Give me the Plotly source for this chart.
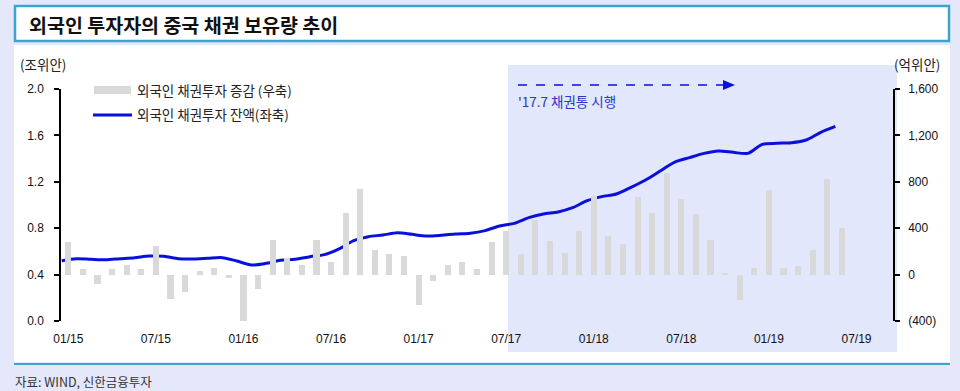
import plotly.graph_objects as go

# ---------------- data ----------------
month_labels = ["01/15", "07/15", "01/16", "07/16", "01/17", "07/17", "01/18", "07/18", "01/19", "07/19"]
n_months_axis = 57  # 2015-01 .. 2019-09 category slots

# monthly change of foreign bond holdings (억위안, right axis), 2015-01 .. 2019-06
flow = [280, 45, -80, 45, 80, 45, 250, -210, -150, 35, 55, -30,
        -405, -120, 300, 145, 80, 300, 110, 535, 740, 215, 175, 160,
        -265, -55, 80, 110, 45, 280, 380, 175, 475, 290, 185, 380,
        675, 330, 260, 665, 535, 880, 650, 520, 300, 15, -220, 60,
        730, 60, 75, 210, 820, 405]

# outstanding foreign bond holdings (조위안, left axis), beginning-of-month values
balance = [0.52, 0.537, 0.532, 0.528, 0.537, 0.546, 0.560, 0.558, 0.537, 0.534, 0.540, 0.546,
           0.517, 0.483, 0.497, 0.523, 0.532, 0.554, 0.572, 0.621, 0.692, 0.727, 0.741, 0.761,
           0.747, 0.733, 0.739, 0.750, 0.757, 0.779, 0.819, 0.842, 0.891, 0.922, 0.940, 0.977,
           1.037, 1.072, 1.095, 1.152, 1.216, 1.293, 1.370, 1.408, 1.445, 1.466, 1.454, 1.445,
           1.523, 1.532, 1.537, 1.560, 1.627, 1.678]

left_ticks = [0.0, 0.4, 0.8, 1.2, 1.6, 2.0]
right_ticks = [-400, 0, 400, 800, 1200, 1600]
right_ticktext = ["(400)", "0", "400", "800", "1,200", "1,600"]

title_text = "외국인 투자자의 중국 채권 보유량 추이"
legend_flow = "외국인 채권투자 증감 (우축)"
legend_bal = "외국인 채권투자 잔액(좌축)"
note_text = "'17.7 채권통 시행"
source_text = "자료: WIND, 신한금융투자"

# ---------------- layout helpers ----------------
W, H = 960, 391
L, R, T, B = 61, 893, 89, 321  # plot area in pixels


def px(x):
    return (x - L) / (R - L)


def py(y):
    return (B - y) / (B - T)


FONT = "Liberation Sans, Arial, Noto Sans CJK KR, sans-serif"
KFONT = "Noto Sans CJK KR, Liberation Sans, sans-serif"
BG = "#e5e8fb"
SHADE = "#e3e7fb"
TEAL = "#3aa6cc"
BLUE = "#0a10dc"
GRAY = "#d9d9d9"

x_bar = list(range(len(flow)))
x_line = [i - 0.45 for i in range(len(balance))]
xr = [-0.5, n_months_axis - 0.5]

fig = go.Figure()
fig.add_trace(go.Bar(x=x_bar, y=flow, yaxis="y2", marker=dict(color=GRAY, line=dict(width=0)),
                     width=0.42, name=legend_flow, showlegend=False))
fig.add_trace(go.Scatter(x=x_line, y=balance, mode="lines", line=dict(color=BLUE, width=3, shape="spline", smoothing=0.8),
                         name=legend_bal, showlegend=False))

shapes = [
    # white chart panel
    dict(type="rect", xref="paper", yref="paper", x0=px(14), x1=px(950), y0=py(362), y1=py(45),
         fillcolor="white", line=dict(width=0), layer="below"),
    # shaded period
    dict(type="rect", xref="paper", yref="paper", x0=px(508), x1=px(897), y0=py(352), y1=py(65),
         fillcolor=SHADE, line=dict(width=0), layer="below"),
    # title box
    dict(type="rect", xref="paper", yref="paper", x0=px(15), x1=px(949), y0=py(41), y1=py(6),
         fillcolor="white", line=dict(color=TEAL, width=2.5), layer="below"),
    # bottom rule
    dict(type="line", xref="paper", yref="paper", x0=px(14), x1=px(950), y0=py(364), y1=py(364),
         line=dict(color=TEAL, width=2)),
    # legend swatches
    dict(type="rect", xref="paper", yref="paper", x0=px(94), x1=px(131), y0=py(94), y1=py(86),
         fillcolor=GRAY, line=dict(width=0)),
    dict(type="line", xref="paper", yref="paper", x0=px(93), x1=px(132), y0=py(115), y1=py(115),
         line=dict(color=BLUE, width=3)),
    # dashed arrow
    dict(type="line", xref="paper", yref="paper", x0=px(518), x1=px(724), y0=py(85), y1=py(85),
         line=dict(color=BLUE, width=1.5, dash="dash")),
    dict(type="path", xref="paper", yref="paper",
         path=f"M {px(723)},{py(80)} L {px(735)},{py(85)} L {px(723)},{py(90)} Z",
         fillcolor=BLUE, line=dict(color=BLUE, width=0)),
]

annotations = [
    dict(text=f"<b>{title_text}</b>", x=px(27), y=py(24), xref="paper", yref="paper", xanchor="left",
         yanchor="middle", showarrow=False, font=dict(family=KFONT, size=19.5, color="#111111")),
    dict(text="(조위안)", x=px(18), y=py(64), xref="paper", yref="paper", xanchor="left", yanchor="middle",
         showarrow=False, font=dict(family=KFONT, size=13.5, color="#222222")),
    dict(text="(억위안)", x=px(942), y=py(64), xref="paper", yref="paper", xanchor="right", yanchor="middle",
         showarrow=False, font=dict(family=KFONT, size=13.5, color="#222222")),
    dict(text=legend_flow, x=px(135), y=py(90), xref="paper", yref="paper", xanchor="left", yanchor="middle",
         showarrow=False, font=dict(family=KFONT, size=13.5, color="#222222")),
    dict(text=legend_bal, x=px(135), y=py(114), xref="paper", yref="paper", xanchor="left", yanchor="middle",
         showarrow=False, font=dict(family=KFONT, size=13.5, color="#222222")),
    dict(text=note_text, x=px(516), y=py(101), xref="paper", yref="paper", xanchor="left", yanchor="middle",
         showarrow=False, font=dict(family=KFONT, size=13.5, color="#2b35c8")),
    dict(text=source_text, x=px(13), y=py(381), xref="paper", yref="paper", xanchor="left", yanchor="middle",
         showarrow=False, font=dict(family=KFONT, size=12.5, color="#333333")),
]

axis_font = dict(family=FONT, size=12, color="#111111")

fig.update_layout(
    width=W, height=H,
    margin=dict(l=L, r=W - R, t=T, b=H - B, pad=0),
    paper_bgcolor=BG, plot_bgcolor="rgba(0,0,0,0)",
    showlegend=False,
    bargap=0,
    shapes=shapes,
    annotations=annotations,
    xaxis=dict(range=xr, tickmode="array", tickvals=[i * 6 for i in range(len(month_labels))],
               ticktext=month_labels, showline=False, ticks="", showgrid=False, zeroline=False,
               tickfont=axis_font, ticklabelstandoff=9, fixedrange=True),
    xaxis2=dict(range=xr, overlaying="x", anchor="free", position=py(274.3), side="bottom",
                tickmode="array", tickvals=[i * 6 + 5.5 for i in range(len(month_labels))],
                showticklabels=False, showline=True, linecolor="#000000", linewidth=1.5,
                ticks="outside", ticklen=5, tickwidth=1.5, tickcolor="#000000",
                showgrid=False, zeroline=False),
    yaxis=dict(range=[0, 2.0], tickmode="array", tickvals=left_ticks,
               ticktext=[f"{v:.1f}" for v in left_ticks], showline=True, linecolor="#000000",
               linewidth=1.5, ticks="outside", ticklen=5, tickwidth=1.5, tickcolor="#000000",
               showgrid=False, zeroline=False, tickfont=axis_font, ticklabelstandoff=8),
    yaxis2=dict(range=[-400, 1600], overlaying="y", side="right", tickmode="array",
                tickvals=right_ticks, ticktext=right_ticktext, showline=True, linecolor="#000000",
                linewidth=1.5, ticks="outside", ticklen=5, tickwidth=1.5, tickcolor="#000000",
                showgrid=False, zeroline=False, tickfont=axis_font, ticklabelstandoff=6),
)

fig.write_html("out.html", config={"displayModeBar": False},
               post_script="document.body.style.margin='0';document.body.style.overflow='hidden';")
